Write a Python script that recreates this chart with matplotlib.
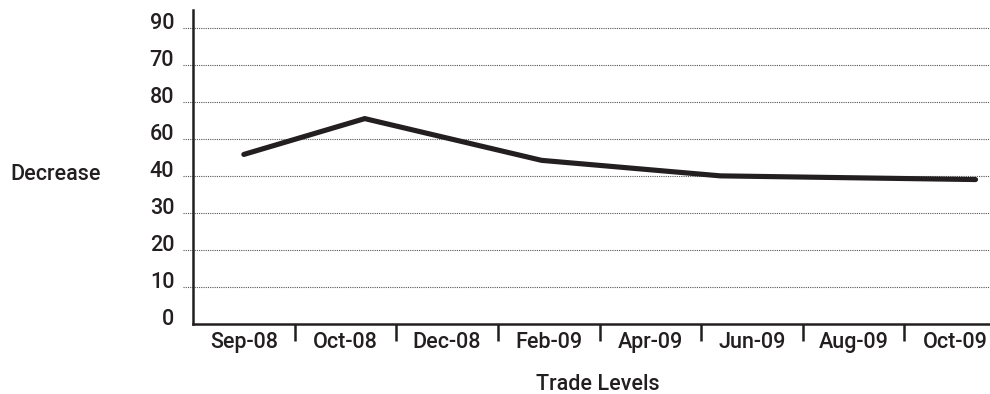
import matplotlib
matplotlib.use("Agg")
import matplotlib.pyplot as plt
from matplotlib.transforms import ScaledTranslation, blended_transform_factory

# Data
categories = ["Sep-08", "Oct-08", "Dec-08", "Feb-09", "Apr-09", "Jun-09", "Aug-09", "Oct-09"]
ytick_labels = ["0", "10", "20", "30", "40", "60", "80", "70", "90"]
# line vertices, in category / tick-position units
line_x = [0.0, 1.19, 2.93, 4.69, 7.20]
line_y = [4.59, 5.56, 4.43, 4.01, 3.91]

INK = "#231f20"
FONT = ["Roboto", "Liberation Sans"]
FW = "medium"
FS = 15.5

W, H, DPI = 990, 394, 100
fig = plt.figure(figsize=(W / DPI, H / DPI), dpi=DPI)
ax_left, ax_right, ax_top, ax_bot = 193, 1006, 10, 324
ax = fig.add_axes([ax_left / W, (H - ax_bot) / H, (ax_right - ax_left) / W, (ax_bot - ax_top) / H])

xs = range(len(categories))
ys = range(len(ytick_labels))
ax.set_xlim(-0.5, len(categories) - 0.5)
ax.set_ylim(0, 8.5)

# gridlines (dotted), extending a bit left of the axis
trans = blended_transform_factory(ax.transAxes, ax.transData)
ax.hlines(list(ys)[1:], -10 / (ax_right - ax_left), 1, transform=trans,
          colors="#555555", linestyles=(0, (1, 1)), linewidth=0.8, clip_on=False, zorder=1)

ax.plot(line_x, line_y, color=INK, linewidth=3.7, solid_capstyle="round",
        solid_joinstyle="miter", zorder=3)

# spines
for s in ["top", "right"]:
    ax.spines[s].set_visible(False)
for s in ["left", "bottom"]:
    ax.spines[s].set_color(INK)
    ax.spines[s].set_linewidth(1.8)
    ax.spines[s].set_zorder(4)

# x ticks: labels at category centres, marks between categories
ax.set_xticks(list(xs))
ax.set_xticklabels(categories, fontsize=FS, family=FONT, weight=FW, color=INK)
ax.set_xticks([i + 0.5 for i in range(len(categories) - 1)], minor=True)
ax.tick_params(axis="x", which="major", length=0, pad=6)
ax.tick_params(axis="x", which="minor", length=12.5, width=1.8, color=INK, direction="out")

# y ticks
ax.set_yticks(list(ys))
ax.set_yticklabels(ytick_labels, fontsize=FS, family=FONT, weight=FW, color=INK)
ax.tick_params(axis="y", which="major", length=0, pad=13.5)
off = ScaledTranslation(0, 7 / DPI, fig.dpi_scale_trans)
for lab in ax.get_yticklabels():
    lab.set_transform(lab.get_transform() + off)

fig.text(10 / W, 1 - 175 / H, "Decrease", fontsize=FS, family=FONT, weight=FW, color=INK,
         ha="left", va="center")
fig.text(598 / W, 1 - 384 / H, "Trade Levels", fontsize=FS, family=FONT, weight=FW, color=INK,
         ha="center", va="center")

fig.savefig("out.png", dpi=DPI)
